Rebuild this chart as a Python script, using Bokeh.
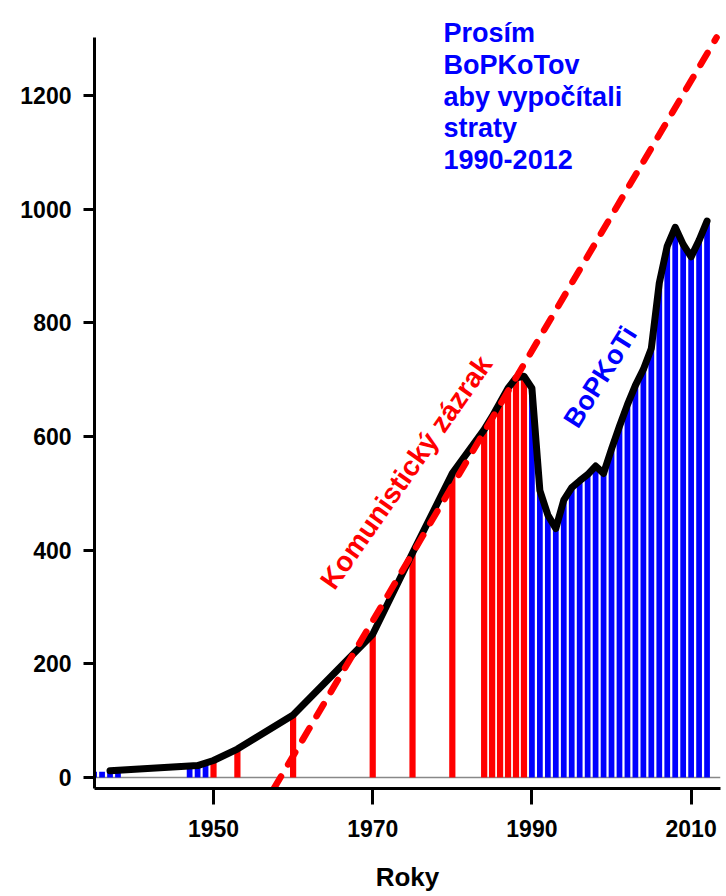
from bokeh.plotting import figure
from bokeh.models import Range1d, FixedTicker, Span, Label
from bokeh.embed import file_html
from bokeh.resources import INLINE

# ---- data ----
red_years = [1950, 1953, 1960, 1970, 1975, 1980, 1984, 1985, 1986, 1987, 1988, 1989]
red_values = [30, 50, 110, 252, 395, 535, 612, 635, 660, 685, 703, 706]

blue_years = [1935, 1936, 1937, 1938, 1947, 1948, 1949] + list(range(1990, 2013))
blue_values = [10, 10, 12, 12, 17, 20, 22,
               685, 505, 462, 438, 488, 510, 522, 533, 548, 535, 578, 618, 656,
               690, 718, 755, 870, 935, 968, 938, 916, 945, 979]

line_years = [1937, 1948, 1950, 1953, 1960, 1970, 1975, 1980] + list(range(1984, 2013))
line_values = [12, 21, 30, 50, 110, 252, 395, 535,
               612, 635, 660, 685, 703, 706,
               685, 505, 462, 438, 488, 510, 522, 533, 548, 535, 578, 618, 656,
               690, 718, 755, 870, 935, 968, 938, 916, 945, 979]

trend_zero_year = 1958.4
trend_slope = 23.76  # per year

x_ticks = [1950, 1970, 1990, 2010]
y_ticks = [0, 200, 400, 600, 800, 1000, 1200]

note_lines = ["Prosím", "BoPKoTov", "aby vypočítali", "straty", "1990-2012"]
x_title = "Roky"
red_label = "Komunistický zázrak"
blue_label = "BoPKoTi"

RED = "#FF0000"
BLUE = "#0000FF"
FONT = "Liberation Sans"

y_bottom, axis_top, y_top = -19.3, 1302, 1360
x0, x1 = 1935.05, 2013.69

p = figure(width=722, height=894,
           x_range=Range1d(x0, x1), y_range=Range1d(y_bottom, y_top),
           output_backend="svg", toolbar_location=None,
           min_border_left=94, min_border_top=4, min_border_right=2,
           min_border_bottom=105)
p.outline_line_color = None
p.xgrid.visible = False
p.ygrid.visible = False
p.background_fill_color = "white"
p.border_fill_color = "white"

# zero line
p.add_layout(Span(location=0, dimension="width", line_color="#888888",
                  line_width=1.5, level="underlay"))

# bars
p.vbar(x=blue_years, top=blue_values, bottom=0, width=0.72,
       fill_color=BLUE, line_color=None)
p.vbar(x=red_years, top=red_values, bottom=0, width=0.78,
       fill_color=RED, line_color=None)

# black line
p.line(line_years, line_values, line_color="black", line_width=7,
       line_join="round", line_cap="round")

# dashed trend line, from the bottom of the plot to the top of the axis
tx = [trend_zero_year + y_bottom / trend_slope, trend_zero_year + axis_top / trend_slope]
ty = [y_bottom, axis_top]
p.line(tx, ty, line_color=RED, line_width=6.5, line_dash="14 14",
       line_cap="round")

# axes
for ax in (p.xaxis[0], p.yaxis[0]):
    ax.axis_line_width = 3
    ax.axis_line_color = "black"
    ax.major_tick_line_width = 3
    ax.major_tick_line_color = "black"
    ax.major_tick_in = 0
    ax.minor_tick_line_color = None
    ax.major_label_text_font = FONT
    ax.major_label_text_font_style = "bold"
    ax.major_label_text_font_size = "23px"
    ax.major_label_text_color = "black"

p.yaxis.bounds = (y_bottom, axis_top)
p.xaxis.ticker = FixedTicker(ticks=x_ticks)
p.yaxis.ticker = FixedTicker(ticks=y_ticks)
p.xaxis.major_tick_out = 16
p.xaxis.major_label_standoff = 15
p.yaxis.major_tick_out = 11
p.yaxis.major_label_standoff = 12
p.xaxis.axis_label = x_title
p.xaxis.axis_label_text_font = FONT
p.xaxis.axis_label_text_font_style = "bold"
p.xaxis.axis_label_text_font_size = "26px"
p.xaxis.axis_label_text_color = "black"
p.xaxis.axis_label_standoff = 22

# annotations
p.add_layout(Label(x=1974.2, y=537.0, text=red_label, angle=55, angle_units="deg",
                   text_align="center", text_baseline="middle",
                   text_color=RED, text_font=FONT, text_font_style="bold",
                   text_font_size="28px"))
p.add_layout(Label(x=1998.6, y=704.7, text=blue_label, angle=58, angle_units="deg",
                   text_align="center", text_baseline="middle",
                   text_color=BLUE, text_font=FONT, text_font_style="bold",
                   text_font_size="27px"))

line_step = 31.6 / 0.5691
for i, t in enumerate(note_lines):
    p.add_layout(Label(x=1978.9, y=1309 - i * line_step, text=t,
                       text_align="left", text_baseline="alphabetic",
                       text_color=BLUE, text_font=FONT, text_font_style="bold",
                       text_font_size="27px"))

open("out.html", "w").write(file_html(p, INLINE))
